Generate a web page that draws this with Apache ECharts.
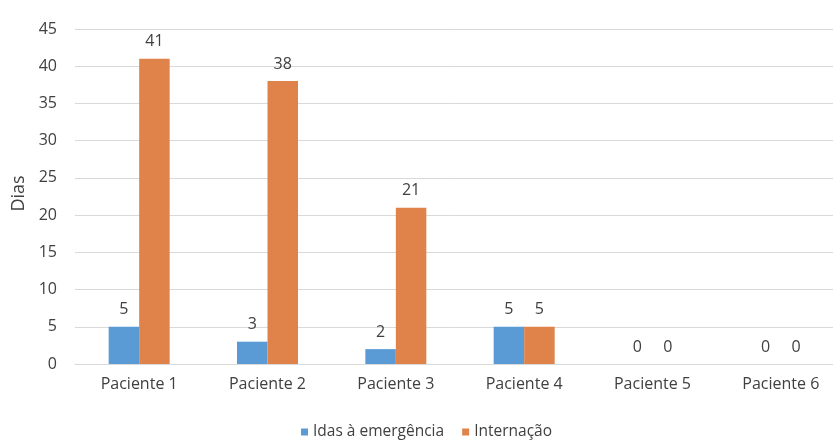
<!DOCTYPE html>
<html><head><meta charset="utf-8">
<script src="https://cdn.jsdelivr.net/npm/echarts@6/dist/echarts.min.js"></script>
<style>html,body{margin:0;padding:0;background:#fff}#c{width:833px;height:440px}</style>
</head><body><div id="c"></div>
<script>
const categories = ['Paciente 1','Paciente 2','Paciente 3','Paciente 4','Paciente 5','Paciente 6'];
const idas = [5, 3, 2, 5, 0, 0];
const internacao = [41, 38, 21, 5, 0, 0];
const seriesNames = ['Idas à emergência', 'Internação'];
const chart = echarts.init(document.getElementById('c'));
const font = 'Open Sans, Noto Sans, sans-serif';
const lbl = {show:true, position:'top', color:'#404040', fontSize:16, fontFamily:font, distance:9};
chart.setOption({
  animation:false,
  textStyle:{fontFamily:font},
  grid:{left:75, top:29, width:770, height:335, containLabel:false, outerBoundsMode:'none'},
  legend:{top:419, left:296, itemWidth:7, itemHeight:7, icon:'rect', itemGap:18,
    textStyle:{fontSize:15.5, color:'#404040', fontFamily:font}},
  xAxis:{type:'category', data:categories,
    axisLine:{lineStyle:{color:'#d9d9d9', width:1}}, axisTick:{show:false},
    axisLabel:{color:'#404040', fontSize:16, margin:12, fontFamily:font}},
  yAxis:{type:'value', min:0, max:45, interval:5, name:'Dias', nameLocation:'middle', nameGap:45,
    nameTextStyle:{color:'#404040', fontSize:18, fontFamily:font, padding:[0,0,0,6]},
    axisLine:{show:false}, axisTick:{show:false},
    axisLabel:{color:'#404040', fontSize:16, margin:18, fontFamily:font},
    splitLine:{lineStyle:{color:'#d9d9d9', width:1}}},
  series:[
    {name:seriesNames[0], type:'bar', data:idas, barWidth:30.5, barGap:'0%', itemStyle:{color:'#5B9BD5'}, label:lbl},
    {name:seriesNames[1], type:'bar', data:internacao, barWidth:30.5, itemStyle:{color:'#E0834A'}, label:lbl}
  ]
});
</script></body></html>
